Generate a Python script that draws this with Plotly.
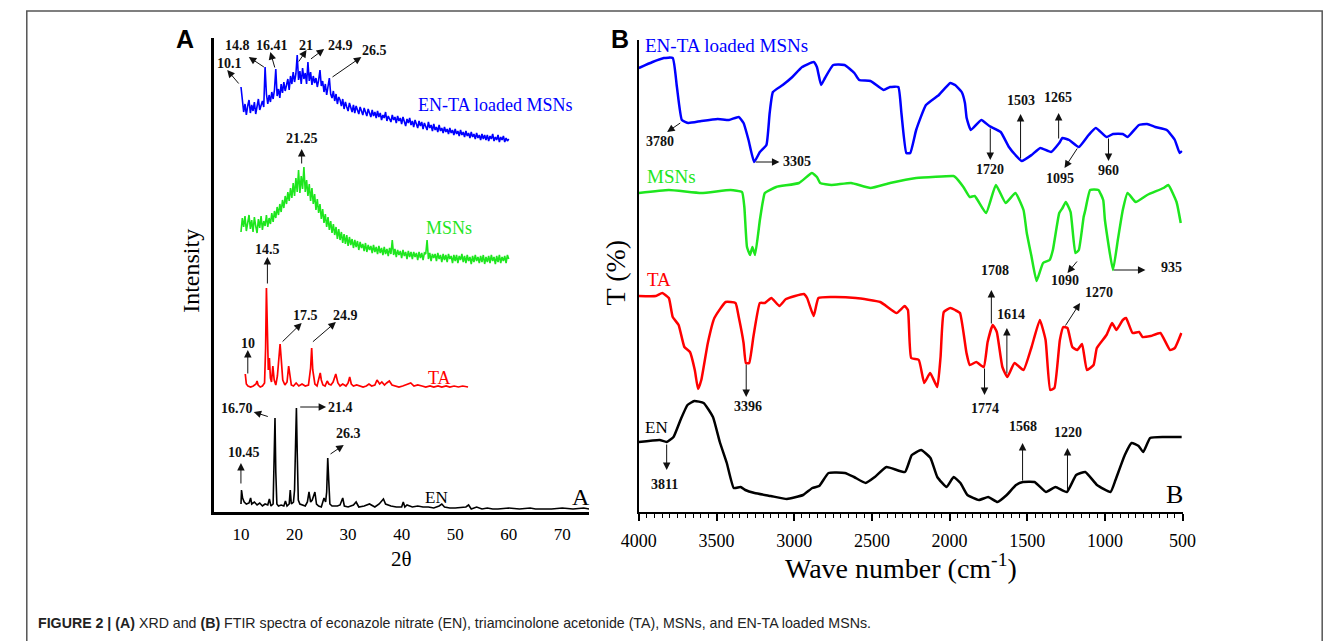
import numpy as np
import plotly.graph_objects as go

W, H = 1344, 641

# ---------------- XRD data (panel A) ----------------
XRD_GRID = list(np.linspace(10, 60, 201))  # 0.25 deg sampling for amorphous patterns
XRD_LOADED = [55, 40, 30, 38, 27, 36, 42, 29,
              37, 31, 40, 28, 35, 43, 32, 38,
              41, 35, 75, 48, 38, 47, 40, 50,
              43, 52, 73, 46, 53, 44, 58, 49,
              60, 51, 57, 63, 52, 66, 58, 70,
              60, 68, 87, 62, 71, 58, 74, 63,
              69, 58, 80, 61, 70, 57, 66, 59,
              64, 55, 62, 72, 56, 61, 50, 58,
              47, 54, 64, 48, 44, 51, 41, 48,
              38, 45, 42, 36, 43, 33, 40, 35,
              31, 39, 34, 30, 37, 29, 36, 31,
              28, 35, 30, 27, 34, 29, 26, 33,
              28, 25, 32, 26, 30, 24, 31, 25,
              29, 22, 27, 24, 30, 21, 26, 23,
              20, 27, 22, 25, 19, 26, 21, 24,
              18, 25, 20, 16, 23, 19, 24, 17,
              21, 15, 22, 18, 14, 21, 16, 20,
              13, 19, 15, 12, 20, 14, 17, 11,
              18, 12, 15, 10, 17, 11, 14, 9,
              15, 10, 13, 8, 14, 9, 12, 7,
              13, 8, 11, 6, 12, 7, 10, 5,
              11, 6, 9, 4, 10, 5, 8, 3,
              9, 4, 7, 2, 8, 3, 7, 2,
              7, 1, 6, 3, 8, 1, 5, 2,
              7, 0, 5, 2, 6, 0, 4, 1,
              3]
XRD_MSN = [30, 44, 35, 46, 31, 40, 47, 33,
           42, 30, 45, 36, 29, 43, 34, 46,
           32, 41, 36, 47, 35, 44, 38, 49,
           40, 51, 44, 55, 47, 58, 50, 62,
           54, 66, 58, 70, 61, 74, 64, 79,
           66, 84, 70, 92, 69, 86, 73, 95,
           70, 82, 66, 78, 61, 74, 58, 68,
           52, 63, 49, 58, 43, 53, 39, 48,
           35, 45, 32, 41, 29, 38, 27, 35,
           23, 33, 22, 30, 19, 28, 18, 27,
           16, 25, 17, 23, 14, 22, 15, 21,
           12, 20, 14, 18, 11, 19, 10, 17,
           12, 16, 9, 17, 10, 15, 8, 16,
           9, 14, 7, 15, 8, 13, 6, 14,
           8, 22, 7, 13, 5, 12, 7, 11,
           4, 12, 6, 10, 3, 11, 5, 10,
           3, 10, 5, 9, 2, 10, 4, 9,
           2, 9, 8, 22, 3, 9, 1, 8,
           4, 8, 1, 9, 3, 7, 0, 8,
           2, 7, 0, 8, 3, 6, -1, 7,
           1, 7, -1, 6, 2, 8, 0, 6,
           -1, 7, 1, 5, -2, 6, 0, 7,
           1, 5, -1, 6, 0, 7, -2, 5,
           0, 6, -1, 7, 1, 5, -2, 6,
           0, 7, -1, 5, 1, 6, -1, 7,
           3]
XRD_TA = [(10.8, 14), (11.0, 4), (11.3, 2), (11.8, 1), (12.3, 2), (12.8, 4), (13.0, 7), (13.2, 3),
          (13.6, 1), (14.0, 2), (14.4, 5), (14.6, 40), (14.75, 100), (14.9, 45), (15.1, 18),
          (15.3, 30), (15.5, 10), (15.7, 6), (15.95, 22), (16.2, 8), (16.5, 3), (16.8, 12),
          (17.05, 27), (17.3, 44), (17.5, 30), (17.8, 8), (18.2, 3), (18.6, 6), (18.9, 22),
          (19.1, 14), (19.4, 3), (19.8, 2), (20.3, 5), (20.8, 2), (21.4, 4), (22.0, 2),
          (22.6, 3), (23.0, 20), (23.2, 40), (23.4, 18), (23.8, 4), (24.2, 2), (24.5, 10),
          (24.8, 15), (25.0, 8), (25.3, 3), (25.7, 2), (26.1, 7), (26.4, 4), (26.8, 3),
          (27.2, 6), (27.7, 14), (28.1, 5), (28.5, 2), (29.0, 4), (29.6, 2), (30.0, 5),
          (30.3, 11), (30.6, 4), (31.0, 2), (31.6, 3), (32.2, 2), (32.8, 1), (33.4, 2),
          (33.9, 4), (34.4, 2), (35.0, 3), (35.4, 8), (35.9, 4), (36.3, 6), (36.8, 3),
          (37.2, 5), (37.7, 7), (38.2, 3), (38.8, 2), (39.5, 1), (40.2, 2), (40.8, 3),
          (41.2, 4), (41.7, 5), (42.3, 2), (43.0, 3), (43.8, 2), (44.5, 1), (45.3, 2),
          (46.0, 1), (46.8, 2), (47.5, 1), (48.3, 2), (49.0, 1), (49.8, 2), (50.6, 1),
          (51.4, 2), (52.4, 1)]
XRD_EN = [(10.0, 8), (10.1, 22), (10.3, 14), (10.6, 10), (11.0, 8), (11.5, 9), (11.8, 14),
          (12.0, 8), (12.5, 10), (13.0, 7), (13.5, 9), (14.0, 6), (14.5, 8), (15.0, 7),
          (15.3, 13), (15.6, 6), (16.0, 8), (16.2, 60), (16.35, 94), (16.5, 40), (16.7, 8),
          (17.0, 6), (17.5, 7), (18.0, 6), (18.3, 11), (18.6, 6), (19.0, 8), (19.2, 22),
          (19.4, 8), (19.8, 10), (20.0, 22), (20.2, 70), (20.35, 104), (20.5, 60), (20.7, 12),
          (21.0, 8), (21.5, 7), (22.0, 6), (22.4, 10), (22.7, 20), (23.0, 10), (23.3, 12),
          (23.8, 20), (24.1, 8), (24.5, 6), (25.0, 5), (25.5, 14), (25.8, 10), (26.0, 20),
          (26.2, 54), (26.4, 30), (26.6, 8), (27.0, 6), (28.0, 6), (28.5, 7), (29.0, 14),
          (29.3, 6), (30.0, 5), (31.0, 7), (31.5, 10), (32.0, 5), (33.0, 6), (34.0, 8),
          (35.0, 5), (35.8, 8), (36.2, 10), (36.6, 13), (37.0, 8), (38.0, 6), (39.0, 5),
          (40.0, 5), (40.3, 10), (40.6, 5), (41.0, 7), (42.0, 5), (43.0, 6), (44.0, 5),
          (45.0, 5), (46.0, 4), (47.0, 6), (47.5, 8), (48.0, 5), (49.0, 4), (50.0, 4),
          (52.0, 5), (52.5, 7), (53.0, 3), (54.0, 5), (55.0, 3), (56.0, 4), (57.0, 3),
          (58.0, 3), (60.0, 4), (62.0, 3), (64.0, 4), (65.0, 3), (66.0, 3), (68.0, 3),
          (70.0, 4), (72.0, 3), (74.0, 4), (75.0, 3)]
XRD_OFFSETS = {"EN": 0, "TA": 124, "MSNs": 250, "EN-TA loaded MSNs": 370}
XRD_TICKS = [10, 20, 30, 40, 50, 60, 70]

# ---------------- FTIR data (panel B) ----------------
FTIR_LOADED = [(4000, 104), (3912, 110), (3839, 114), (3782, 114), (3755, 85), (3723, 52), (3681, 49),
               (3598, 51), (3493, 53), (3420, 52), (3357, 55), (3326, 49), (3294, 32), (3258, 10),
               (3221, 20), (3179, 27), (3158, 59), (3137, 80), (3074, 87), (3012, 95), (2949, 105),
               (2875, 110), (2854, 105), (2827, 87), (2802, 94), (2749, 107), (2676, 107), (2613, 99),
               (2582, 92), (2509, 91), (2425, 82), (2383, 85), (2330, 85), (2310, 59), (2278, 19),
               (2253, 19), (2215, 42), (2152, 67), (2069, 77), (1995, 89), (1964, 87), (1922, 80),
               (1901, 69), (1890, 54), (1863, 42), (1796, 52), (1744, 46), (1671, 40), (1618, 25),
               (1576, 17), (1535, 11), (1472, 17), (1416, 24), (1347, 20), (1294, 29), (1273, 34),
               (1230, 32), (1168, 25), (1105, 37), (1059, 44), (990, 35), (948, 38), (885, 38),
               (854, 35), (781, 47), (728, 48), (676, 45), (602, 42), (550, 32), (519, 19), (504, 21)]
FTIR_MSN = [(4000, 99), (3807, 102), (3598, 99), (3409, 102), (3336, 100), (3321, 85), (3304, 45),
            (3284, 37), (3269, 45), (3252, 37), (3221, 72), (3200, 92), (3189, 99), (3116, 105),
            (2969, 109), (2886, 119), (2854, 115), (2833, 109), (2760, 107), (2634, 109), (2509, 104),
            (2383, 109), (2215, 114), (1975, 116), (1964, 115), (1911, 105), (1870, 95), (1838, 96),
            (1765, 79), (1702, 107), (1639, 89), (1576, 99), (1524, 82), (1503, 59), (1472, 35),
            (1440, 11), (1398, 29), (1356, 32), (1335, 42), (1294, 79), (1273, 84), (1252, 90),
            (1221, 80), (1190, 39), (1168, 42), (1137, 75), (1126, 82), (1095, 102), (1042, 102),
            (1011, 92), (1000, 72), (948, 22), (917, 52), (885, 82), (854, 99), (802, 90), (728, 97),
            (623, 104), (592, 107), (539, 90), (512, 69)]
FTIR_TA = [(4000, 106), (3891, 106), (3849, 109), (3807, 104), (3782, 85), (3744, 77), (3707, 55),
           (3671, 50), (3640, 32), (3619, 13), (3598, 22), (3556, 59), (3514, 84), (3441, 100),
           (3378, 99), (3357, 85), (3326, 59), (3311, 39), (3290, 39), (3263, 65), (3221, 99),
           (3189, 99), (3147, 104), (3095, 96), (3053, 103), (2938, 108), (2917, 104), (2875, 86),
           (2844, 104), (2760, 105), (2603, 104), (2446, 100), (2341, 89), (2289, 96), (2268, 92),
           (2247, 44), (2198, 42), (2163, 19), (2125, 29), (2079, 15), (2058, 45), (2037, 90),
           (1995, 94), (1964, 92), (1933, 89), (1891, 49), (1870, 37), (1828, 40), (1780, 35),
           (1755, 60), (1722, 77), (1696, 70), (1660, 35), (1628, 25), (1582, 39), (1524, 32),
           (1472, 55), (1419, 82), (1382, 62), (1352, 12), (1325, 14), (1290, 62), (1268, 75),
           (1241, 74), (1210, 55), (1178, 52), (1147, 58), (1116, 32), (1073, 37), (1052, 54),
           (990, 67), (954, 79), (926, 72), (885, 82), (864, 84), (822, 69), (780, 70), (758, 65),
           (706, 66), (643, 69), (581, 52), (550, 54), (508, 69)]
FTIR_EN = [(4000, 70), (3866, 72), (3821, 70), (3777, 75), (3732, 92), (3687, 107), (3643, 111),
           (3583, 109), (3523, 95), (3479, 70), (3434, 49), (3389, 24), (3345, 25), (3315, 22),
           (3255, 19), (3151, 16), (3047, 13), (2943, 17), (2883, 24), (2839, 26), (2779, 39),
           (2674, 39), (2615, 35), (2540, 29), (2481, 35), (2406, 45), (2287, 40), (2243, 57),
           (2183, 62), (2123, 54), (2079, 35), (2019, 25), (1974, 35), (1930, 29), (1885, 17),
           (1811, 12), (1751, 15), (1692, 10), (1632, 17), (1572, 27), (1528, 30), (1453, 30),
           (1379, 20), (1319, 25), (1245, 20), (1185, 37), (1126, 40), (1051, 27), (964, 20),
           (932, 32), (872, 57), (828, 69), (783, 66), (753, 60), (709, 74), (619, 75), (506, 75)]
FTIR_OFFSETS = {"EN": 0, "TA": 110, "MSNs": 220, "EN-TA loaded MSNs": 340}
FTIR_TICKS = [4000, 3500, 3000, 2500, 2000, 1500, 1000, 500]

# peak labels: (text, label x, label y, arrow tail x, tail y, head x, head y) in data units
XRD_PEAKS = [
    ("10.1", 7.8, 449, 9.81, 427, 7.43, 442),
    ("14.8", 9.44, 467, 14.56, 444, 11.45, 455),
    ("16.41", 15.84, 467, 16.39, 443, 15.48, 460),
    ("21", 22.06, 467, 20.6, 449, 22.24, 462),
    ("24.9", 28.64, 467, 22.79, 452, 25.53, 463),
    ("26.5", 34.86, 462, 26.81, 434, 32.48, 455),
    ("21.25", 21.33, 374, 21.33, 347, 21.33, 363),
    ("14.5", 14.93, 263, 14.93, 227, 14.93, 255),
    ("10", 11.27, 169, 11.27, 137, 11.27, 162),
    ("17.5", 22.06, 197, 17.49, 169, 21.33, 189),
    ("24.9", 29.55, 197, 23.15, 169, 27.72, 190),
    ("16.70", 9.26, 104, 15.29, 95, 12.37, 100),
    ("21.4", 28.64, 105, 20.78, 105, 25.9, 105),
    ("26.3", 30.1, 79, 26.44, 57, 29.19, 67),
    ("10.45", 10.54, 60, 9.99, 27, 9.99, 49),
]
FTIR_PEAKS = [
    ("3780", 3862, 370, 3724, 390, 3818, 380),
    ("3305", 2982, 350, 3258, 350, 3095, 350),
    ("1720", 1738, 342, 1738, 385, 1738, 352),
    ("1503", 1543, 411, 1543, 352, 1543, 398),
    ("1265", 1304, 414, 1298, 372, 1298, 399),
    ("1095", 1292, 333, 1172, 365, 1260, 344),
    ("960", 977, 341, 977, 375, 977, 351),
    ("3396", 3296, 105, 3309, 149, 3309, 115),
    ("1708", 1706, 241, 1731, 187, 1731, 222),
    ("1614", 1606, 197, 1631, 137, 1631, 184),
    ("1774", 1769, 103, 1775, 145, 1775, 117),
    ("1270", 1040, 219, 1260, 185, 1160, 209),
    ("1090", 1254, 231, 1172, 252, 1241, 239),
    ("935", 569, 244, 952, 242, 739, 242),
    ("3811", 3837, 27, 3821, 69, 3821, 42),
    ("1568", 1527, 85, 1530, 30, 1530, 69),
    ("1220", 1239, 79, 1241, 20, 1241, 64),
]

COLORS = {"EN": "#000000", "TA": "#ff0000", "MSNs": "#1ee61e", "EN-TA loaded MSNs": "#0000ff"}
SERIF = "Liberation Serif, Times New Roman, serif"


def px(x):
    return x / W


def py(y):
    return 1 - y / H


fig = go.Figure()

# panel A traces
xa, ya = zip(*XRD_EN)
fig.add_trace(go.Scatter(x=xa, y=[v + XRD_OFFSETS["EN"] for v in ya], mode="lines",
                         line=dict(color=COLORS["EN"], width=1.6), xaxis="x", yaxis="y"))
xa, ya = zip(*XRD_TA)
fig.add_trace(go.Scatter(x=xa, y=[v + XRD_OFFSETS["TA"] for v in ya], mode="lines",
                         line=dict(color=COLORS["TA"], width=1.7), xaxis="x", yaxis="y"))
fig.add_trace(go.Scatter(x=XRD_GRID, y=[v + XRD_OFFSETS["MSNs"] for v in XRD_MSN], mode="lines",
                         line=dict(color=COLORS["MSNs"], width=1.6), xaxis="x", yaxis="y"))
fig.add_trace(go.Scatter(x=XRD_GRID, y=[v + XRD_OFFSETS["EN-TA loaded MSNs"] for v in XRD_LOADED],
                         mode="lines", line=dict(color=COLORS["EN-TA loaded MSNs"], width=1.6),
                         xaxis="x", yaxis="y"))

# panel B traces
for name, data in [("EN", FTIR_EN), ("TA", FTIR_TA), ("MSNs", FTIR_MSN),
                   ("EN-TA loaded MSNs", FTIR_LOADED)]:
    xb, yb = zip(*data)
    fig.add_trace(go.Scatter(x=xb, y=[v + FTIR_OFFSETS[name] for v in yb], mode="lines",
                             line=dict(color=COLORS[name], width=2.5, shape="spline", smoothing=0.4),
                             xaxis="x2", yaxis="y2"))

ann = []
arrow_style = dict(showarrow=True, arrowhead=2, arrowsize=1.5, arrowwidth=1, arrowcolor="#111",
                   text="")
label_font = dict(family=SERIF, size=14, color="#111")

for xr, yr, peaks in [("x", "y", XRD_PEAKS), ("x2", "y2", FTIR_PEAKS)]:
    for t, lx, ly, tx, ty, hx, hy in peaks:
        ann.append(dict(x=lx, y=ly, xref=xr, yref=yr, text="<b>%s</b>" % t, showarrow=False,
                        xanchor="center", yanchor="middle", font=label_font))
        ann.append(dict(x=hx, y=hy, ax=tx, ay=ty, xref=xr, yref=yr, axref=xr, ayref=yr,
                        **arrow_style))


def series_font(c, s=18):
    return dict(family=SERIF, size=s, color=c)


def lab(x, y, xr, yr, text, font, xanchor="center"):
    return dict(x=x, y=y, xref=xr, yref=yr, text=text, showarrow=False, xanchor=xanchor,
                yanchor="middle", font=font)


ann += [
    lab(57.56, 407, "x", "y", "EN-TA loaded MSNs", series_font(COLORS["EN-TA loaded MSNs"])),
    lab(48.8, 284, "x", "y", "MSNs", series_font(COLORS["MSNs"])),
    lab(47.1, 134, "x", "y", "TA", series_font(COLORS["TA"])),
    lab(46.6, 15, "x", "y", "EN", series_font(COLORS["EN"], 17)),
    lab(73.4, 15, "x", "y", "A", series_font("#000", 24)),
    lab(3975, 466, "x2", "y2", "EN-TA loaded MSNs", series_font(COLORS["EN-TA loaded MSNs"], 19), "left"),
    lab(3962, 335, "x2", "y2", "MSNs", series_font(COLORS["MSNs"], 19), "left"),
    lab(3962, 232, "x2", "y2", "TA", series_font(COLORS["TA"], 19), "left"),
    lab(3975, 84, "x2", "y2", "EN", series_font(COLORS["EN"], 17), "left"),
    lab(550, 17, "x2", "y2", "B", series_font("#000", 26)),
]

# axis titles, panel letters, caption (paper coordinates)
sans = "Liberation Sans, Arial, sans-serif"
ann += [
    lab(px(393), py(559), "paper", "paper", "2θ", dict(family=SERIF, size=21, color="#000")),
    dict(lab(px(177), py(271), "paper", "paper", "Intensity",
             dict(family=SERIF, size=24, color="#000")), textangle=-90),
    dict(lab(px(612), py(272), "paper", "paper", "T (%)",
             dict(family=SERIF, size=28, color="#000")), textangle=-90),
    lab(px(905), py(566), "paper", "paper", "Wave number (cm<sup>-1</sup>)",
        dict(family=SERIF, size=28, color="#000")),
    lab(px(171), py(39), "paper", "paper", "<b>A</b>", dict(family=sans, size=25, color="#000")),
    lab(px(617), py(39), "paper", "paper", "<b>B</b>", dict(family=sans, size=25, color="#000")),
    lab(px(18), py(623), "paper", "paper",
        "<b>FIGURE 2 |</b> <b>(A)</b> XRD and <b>(B)</b> FTIR spectra of econazole nitrate (EN), "
        "triamcinolone acetonide (TA), MSNs, and EN-TA loaded MSNs.",
        dict(family=sans, size=14.2, color="#222"), "left"),
]

fig.update_layout(
    width=W, height=H, margin=dict(l=0, r=0, t=0, b=0),
    paper_bgcolor="white", plot_bgcolor="white", showlegend=False,
    annotations=ann,
    xaxis=dict(domain=[px(201), px(585)], range=[5, 75], tickvals=XRD_TICKS,
               showline=True, linecolor="#000", linewidth=2.5, showgrid=False, zeroline=False,
               ticks="", ticklabelstandoff=5,
               tickfont=dict(family=SERIF, size=17, color="#000"), anchor="y"),
    yaxis=dict(domain=[py(512), py(38)], range=[0, 474], showline=True, linecolor="#000",
               linewidth=2.5, showgrid=False, zeroline=False, showticklabels=False, ticks="",
               anchor="x"),
    xaxis2=dict(domain=[px(636), px(1193)], range=[4000, 500], tickvals=FTIR_TICKS,
                showline=True, linecolor="#000", linewidth=2, showgrid=False, zeroline=False,
                ticks="outside", ticklen=7, tickwidth=1.5, tickcolor="#000",
                minor=dict(ticks="outside", ticklen=4, tickwidth=1.2, dtick=50, tickcolor="#000"),
                ticklabelstandoff=4,
                tickfont=dict(family=SERIF, size=18, color="#000"), anchor="y2"),
    yaxis2=dict(domain=[py(512), py(40)], range=[0, 472], showline=True, linecolor="#000",
                linewidth=2, showgrid=False, zeroline=False, showticklabels=False, ticks="",
                anchor="x2"),
    shapes=[dict(type="rect", xref="paper", yref="paper", x0=px(9), x1=px(1336),
                 y0=-0.05, y1=py(11), line=dict(color="#555", width=1.5))],
)

fig.write_html("out.html")
